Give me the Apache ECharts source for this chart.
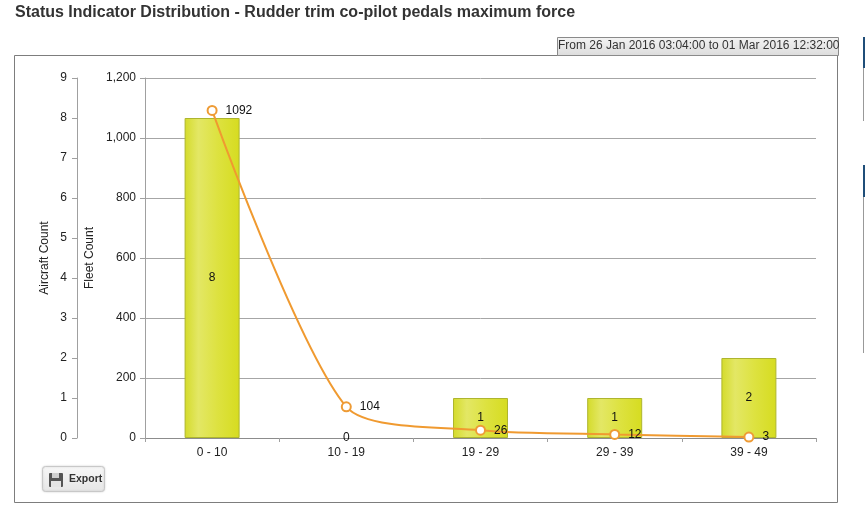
<!DOCTYPE html>
<html>
<head>
<meta charset="utf-8">
<style>html,body{margin:0;padding:0;background:#fff}#c{width:865px;height:523px}</style>
<script src="https://cdn.jsdelivr.net/npm/echarts@6/dist/echarts.min.js"></script>
</head>
<body>
<div id="c"></div>
<script>
const categories = ['0 - 10', '10 - 19', '19 - 29', '29 - 39', '39 - 49'];
const aircraftCount = [8, 0, 1, 1, 2];
const fleetCount = [1092, 104, 26, 12, 3];
const titleText = 'Status Indicator Distribution - Rudder trim co-pilot pedals maximum force';
const rangeText = 'From 26 Jan 2016 03:04:00 to 01 Mar 2016 12:32:00';
const FONT = '"Liberation Sans", Arial, sans-serif';

const chart = echarts.init(document.getElementById('c'), null, {renderer: 'canvas'});
const axisCommon = {
  type: 'value', position: 'left', nameLocation: 'middle', nameRotate: 90, nameMoveOverlap: false,
  nameTextStyle: {color: '#222', fontFamily: FONT, fontSize: 12},
  axisLine: {show: true, lineStyle: {color: '#a0a0a0', width: 1}},
  axisTick: {show: true, length: 5, lineStyle: {color: '#a0a0a0'}},
  axisLabel: {color: '#222', fontFamily: FONT, fontSize: 12, margin: 10, padding: [2, 0, 0, 0]}
};
chart.setOption({
  animation: false,
  backgroundColor: '#fff',
  textStyle: {fontFamily: FONT},
  title: {text: titleText, left: 15, top: 5, padding: 0,
    textStyle: {fontFamily: FONT, fontSize: 16, fontWeight: 'bold', color: '#333'}},
  grid: {left: 145, right: 49, top: 78, bottom: 85, containLabel: false},
  xAxis: {type: 'category', data: categories,
    axisLine: {lineStyle: {color: '#8c8c8c'}},
    axisTick: {show: true, alignWithLabel: false, length: 4, lineStyle: {color: '#a0a0a0'}},
    axisLabel: {color: '#222', fontFamily: FONT, fontSize: 12, margin: 9}},
  yAxis: [
    Object.assign({}, axisCommon, {name: 'Fleet Count', nameGap: 49, min: 0, max: 1200, interval: 200,
      splitLine: {show: true, lineStyle: {color: '#a6a6a6', width: 1}},
      axisLabel: Object.assign({}, axisCommon.axisLabel, {margin: 9, formatter: v => v.toLocaleString('en-US')})}),
    Object.assign({}, axisCommon, {name: 'Aircraft Count', nameGap: 26, offset: 68, min: 0, max: 9, interval: 1,
      splitLine: {show: false}})
  ],
  series: [
    {type: 'bar', name: 'Aircraft Count', yAxisIndex: 1, barWidth: 55, z: 2,
      data: aircraftCount.map(v => v === 0 ? {value: v, itemStyle: {borderWidth: 0, color: 'transparent'}} : v),
      itemStyle: {borderColor: '#aeb52e', borderWidth: 1,
        color: new echarts.graphic.LinearGradient(0, 0, 1, 0, [
          {offset: 0, color: '#d4db2a'}, {offset: 0.25, color: '#e3e765'},
          {offset: 0.6, color: '#dde240'}, {offset: 1, color: '#d6dc20'}])},
      label: {show: true, position: 'inside', color: '#111', fontFamily: FONT, fontSize: 12, padding: [2, 0, 0, 0]}},
    {type: 'line', name: 'Fleet Count', yAxisIndex: 0, data: fleetCount, smooth: 0.25, z: 3,
      symbol: 'circle', symbolSize: 9, showAllSymbol: true,
      lineStyle: {color: '#f09a30', width: 2},
      itemStyle: {color: '#fff', borderColor: '#ee9b35', borderWidth: 2},
      label: {show: true, position: 'right', distance: 8, color: '#111', fontFamily: FONT, fontSize: 12, padding: [2, 0, 0, 0]}}
  ],
  graphic: [
    {type: 'rect', silent: true, z: -10, shape: {x: 14.5, y: 55.5, width: 823, height: 447},
      style: {fill: '#fff', stroke: '#7d7d7d', lineWidth: 1}},
    {type: 'rect', silent: true, z: 5, shape: {x: 557.5, y: 37.5, width: 281, height: 18},
      style: {stroke: '#8a8a8a', lineWidth: 1,
        fill: new echarts.graphic.LinearGradient(0, 0, 0, 1, [{offset: 0, color: '#f4f4f4'}, {offset: 1, color: '#dcdcdc'}])}},
    {type: 'text', silent: true, z: 6, x: 558, y: 40,
      style: {text: rangeText, fill: '#333', font: '12px ' + FONT}},
    {type: 'rect', silent: true, z: 5, shape: {x: 42.5, y: 466.5, width: 62, height: 25, r: 3},
      style: {stroke: '#c8c8c8', lineWidth: 1, shadowBlur: 2, shadowColor: 'rgba(0,0,0,0.15)',
        fill: new echarts.graphic.LinearGradient(0, 0, 0, 1, [{offset: 0, color: '#f7f7f7'}, {offset: 1, color: '#e6e6e6'}])}},
    {type: 'rect', silent: true, z: 6, shape: {x: 49, y: 473, width: 14, height: 14, r: 1}, style: {fill: '#555'}},
    {type: 'rect', silent: true, z: 7, shape: {x: 52, y: 473, width: 7, height: 5}, style: {fill: '#cfcfcf'}},
    {type: 'rect', silent: true, z: 7, shape: {x: 51, y: 481, width: 10, height: 6}, style: {fill: '#e4e4e4'}},
    {type: 'text', silent: true, z: 6, x: 69, y: 474,
      style: {text: 'Export', fill: '#333', font: 'bold 10.5px ' + FONT}},
    {type: 'rect', silent: true, z: 1, shape: {x: 863, y: 37, width: 2, height: 31}, style: {fill: '#1f4e79'}},
    {type: 'rect', silent: true, z: 1, shape: {x: 863, y: 68, width: 1, height: 53}, style: {fill: '#999'}},
    {type: 'rect', silent: true, z: 1, shape: {x: 863, y: 165, width: 2, height: 32}, style: {fill: '#1f4e79'}},
    {type: 'rect', silent: true, z: 1, shape: {x: 863, y: 197, width: 1, height: 156}, style: {fill: '#999'}}
  ]
});
</script>
</body>
</html>
